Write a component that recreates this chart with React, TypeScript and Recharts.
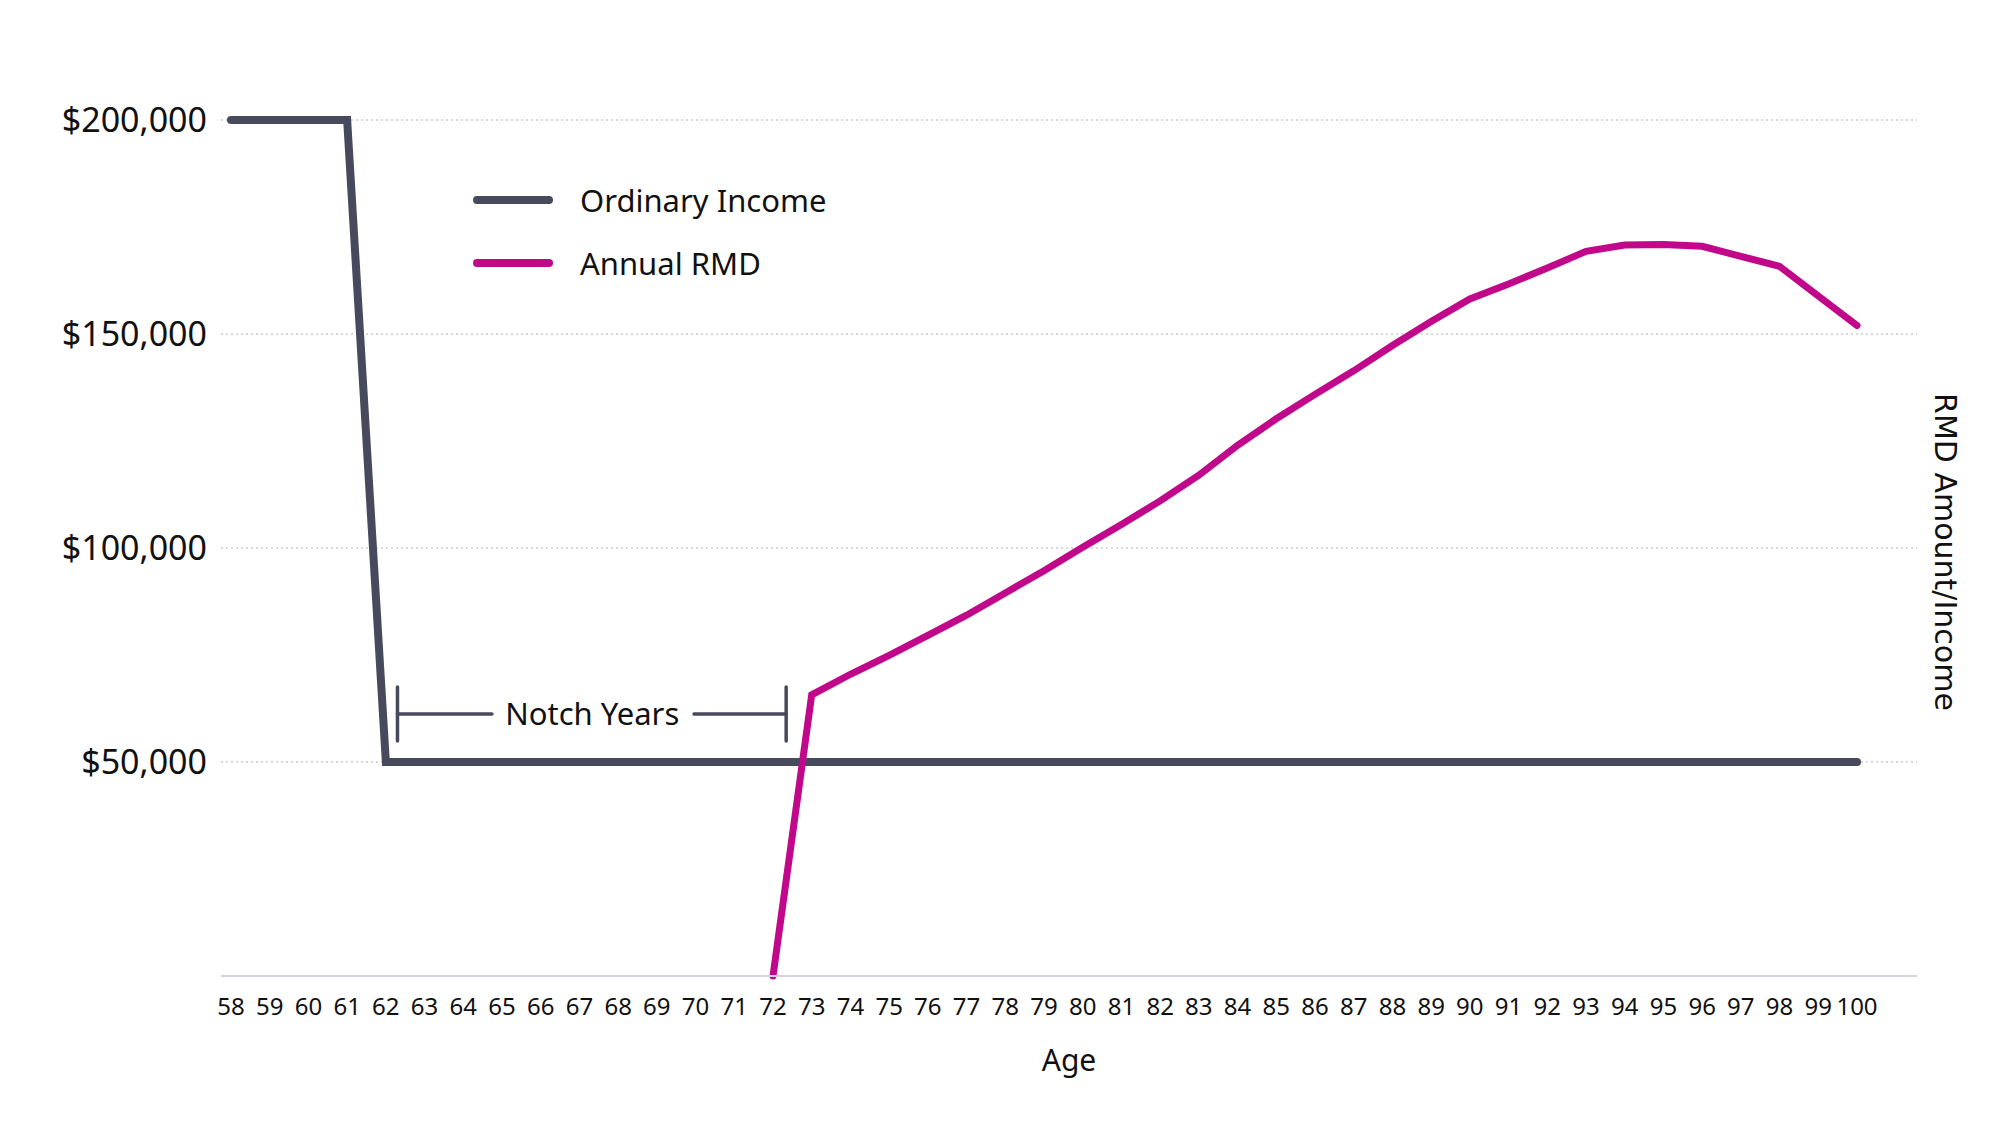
import React from 'react';
import {
  LineChart,
  Line,
  XAxis,
  YAxis,
  CartesianGrid,
  ReferenceLine,
  ReferenceDot,
  Legend,
} from 'recharts';

const ages = [
  58, 59, 60, 61, 62, 63, 64, 65, 66, 67, 68, 69, 70, 71, 72, 73, 74, 75, 76, 77, 78,
  79, 80, 81, 82, 83, 84, 85, 86, 87, 88, 89, 90, 91, 92, 93, 94, 95, 96, 97, 98, 99, 100,
];

const ordinaryIncome = [
  200000, 200000, 200000, 200000, 50000, 50000, 50000, 50000, 50000, 50000, 50000,
  50000, 50000, 50000, 50000, 50000, 50000, 50000, 50000, 50000, 50000, 50000, 50000,
  50000, 50000, 50000, 50000, 50000, 50000, 50000, 50000, 50000, 50000, 50000, 50000,
  50000, 50000, 50000, 50000, 50000, 50000, 50000, 50000,
];

const annualRmd: (number | null)[] = [
  null, null, null, null, null, null, null, null, null, null, null, null, null, null,
  0, 65700, 70500, 74900, 79600, 84300, 89500, 94700, 100200, 105500, 111000, 117000,
  124000, 130200, 135900, 141400, 147300, 152900, 158200, 161700, 165400, 169300,
  170800, 170900, 170500, 168150, 165800, 158900, 152000,
];

const yTicks = [50000, 100000, 150000, 200000];

const legendOrder = ['Ordinary Income', 'Annual RMD'];

const notchBarLow = 54900;
const notchBarHigh = 67500;
const notchLineY = 61200;
const notchStart = 62.3;
const notchEnd = 72.34;
const notchGapLeft = 64.74;
const notchGapRight = 69.96;
const notchTextX = 67.33;

const data = ages.map((age, i) => ({
  age,
  income: ordinaryIncome[i],
  rmd: annualRmd[i],
}));

const DARK = '#474a5d';
const MAGENTA = '#c1078a';
const TEXT = '#111111';
const FONT = "'Noto Sans', sans-serif";

const fmtMoney = (v: number) => '$' + v.toLocaleString('en-US');

const renderLegend = (props: any) => {
  const payload = [...(props.payload || [])].sort(
    (a: any, b: any) => legendOrder.indexOf(a.value) - legendOrder.indexOf(b.value)
  );
  return (
    <div style={{ fontFamily: FONT }}>
      {payload.map((entry: any) => (
        <div
          key={entry.value}
          style={{ display: 'flex', alignItems: 'center', height: 63 }}
        >
          <svg width={80} height={12} style={{ display: 'block' }}>
            <line
              x1={4}
              y1={6}
              x2={76}
              y2={6}
              stroke={entry.color}
              strokeWidth={8}
              strokeLinecap="round"
            />
          </svg>
          <span style={{ marginLeft: 27, fontSize: 31, color: TEXT, lineHeight: 1 }}>
            {entry.value}
          </span>
        </div>
      ))}
    </div>
  );
};

const AgeLabel = (props: any) => {
  const vb = props.viewBox || {};
  const x = vb.x + vb.width / 2;
  const y = vb.y + 83;
  return (
    <text
      x={x}
      y={y}
      textAnchor="middle"
      dominantBaseline="central"
      fontSize={30}
      fontFamily={FONT}
      fill={TEXT}
    >
      Age
    </text>
  );
};

const RightLabel = (props: any) => {
  const vb = props.viewBox || {};
  const x = vb.x + 28;
  const y = vb.y + vb.height / 2 + 4;
  return (
    <text
      x={x}
      y={y}
      transform={`rotate(90 ${x} ${y})`}
      textAnchor="middle"
      dominantBaseline="central"
      fontSize={30}
      fontFamily="'DejaVu Sans', sans-serif"
      fill={TEXT}
    >
      RMD Amount/Income
    </text>
  );
};

export default function App() {
  return (
    <div style={{ position: 'absolute', left: 0, top: 0, width: 2000, height: 1125, background: '#fff' }}>
      <LineChart
        width={2000}
        height={1125}
        data={data}
        margin={{ top: 120, right: 0, bottom: 0, left: 0 }}
        style={{ fontFamily: FONT }}
      >
        <CartesianGrid
          yAxisId="left"
          vertical={false}
          stroke="#cccccc"
          strokeWidth={1.5}
          strokeDasharray="2 3"
        />
        <XAxis
          dataKey="age"
          type="number"
          domain={[58, 100]}
          ticks={ages}
          interval={0}
          padding={{ left: 10, right: 60 }}
          height={149}
          tickLine={false}
          tickSize={0}
          tickMargin={22}
          axisLine={{ stroke: '#d3d3db', strokeWidth: 2 }}
          tick={{ fontSize: 24, fill: TEXT, fontFamily: FONT }}
          label={<AgeLabel />}
        />
        <YAxis
          yAxisId="left"
          domain={[0, 200000]}
          ticks={yTicks}
          width={221}
          axisLine={false}
          tickLine={false}
          tickSize={0}
          tickMargin={14}
          tickFormatter={fmtMoney}
          tick={{ fontSize: 34, fill: TEXT, fontFamily: FONT }}
        />
        <YAxis
          yAxisId="right"
          orientation="right"
          domain={[0, 200000]}
          ticks={yTicks}
          width={83}
          axisLine={false}
          tickLine={false}
          tick={false}
          label={<RightLabel />}
        />
        <Legend
          layout="vertical"
          align="center"
          verticalAlign="middle"
          wrapperStyle={{ left: 473, top: 168.5, width: 'auto' }}
          content={renderLegend}
        />
        <Line
          yAxisId="left"
          name="Ordinary Income"
          dataKey="income"
          stroke={DARK}
          strokeWidth={8}
          strokeLinecap="round"
          strokeLinejoin="miter"
          dot={false}
          activeDot={false}
          isAnimationActive={false}
        />
        <Line
          yAxisId="right"
          name="Annual RMD"
          dataKey="rmd"
          stroke={MAGENTA}
          strokeWidth={7}
          strokeLinecap="round"
          strokeLinejoin="miter"
          dot={false}
          activeDot={false}
          connectNulls={false}
          isAnimationActive={false}
        />
        <ReferenceLine
          yAxisId="left"
          segment={[{ x: notchStart, y: notchBarLow }, { x: notchStart, y: notchBarHigh }]}
          stroke={DARK}
          strokeWidth={3.5}
          strokeLinecap="round"
        />
        <ReferenceLine
          yAxisId="left"
          segment={[{ x: notchEnd, y: notchBarLow }, { x: notchEnd, y: notchBarHigh }]}
          stroke={DARK}
          strokeWidth={3.5}
          strokeLinecap="round"
        />
        <ReferenceLine
          yAxisId="left"
          segment={[{ x: notchStart, y: notchLineY }, { x: notchGapLeft, y: notchLineY }]}
          stroke={DARK}
          strokeWidth={3.5}
          strokeLinecap="round"
        />
        <ReferenceLine
          yAxisId="left"
          segment={[{ x: notchGapRight, y: notchLineY }, { x: notchEnd, y: notchLineY }]}
          stroke={DARK}
          strokeWidth={3.5}
          strokeLinecap="round"
        />
        <ReferenceDot
          yAxisId="left"
          x={notchTextX}
          y={notchLineY}
          r={1}
          fill="none"
          stroke="none"
          label={{
            value: 'Notch Years',
            position: 'center',
            fontSize: 31,
            fill: TEXT,
            fontFamily: FONT,
          }}
        />
      </LineChart>
    </div>
  );
}
